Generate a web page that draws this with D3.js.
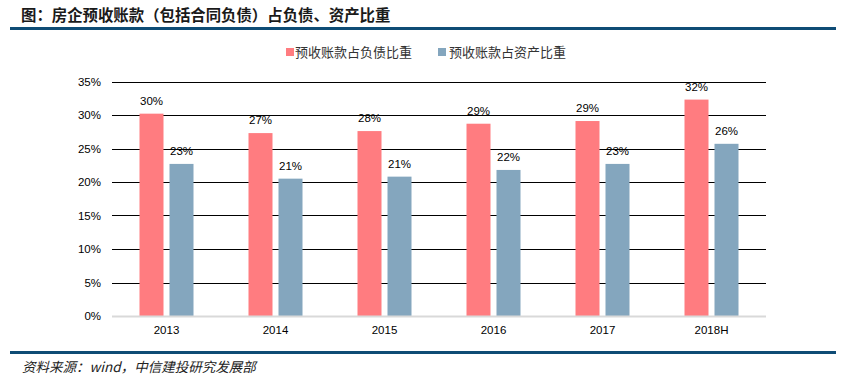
<!DOCTYPE html>
<html>
<head>
<meta charset="utf-8">
<script src="https://cdn.jsdelivr.net/npm/d3@7/dist/d3.min.js"></script>
<style>
  html, body { margin: 0; padding: 0; background: #ffffff; }
  svg { display: block; }
</style>
</head>
<body>
<svg id="chart" width="862" height="381"></svg>
<script>
const categories = ["2013", "2014", "2015", "2016", "2017", "2018H"];
const seriesNames = ["预收账款占负债比重", "预收账款占资产比重"];
const debtRatio = [30.2, 27.3, 27.6, 28.7, 29.1, 32.3];
const assetRatio = [22.7, 20.5, 20.8, 21.8, 22.7, 25.7];
const debtLabels = ["30%", "27%", "28%", "29%", "29%", "32%"];
const assetLabels = ["23%", "21%", "21%", "22%", "23%", "26%"];
const yTicks = [0, 5, 10, 15, 20, 25, 30, 35];
const colors = ["#FF7C80", "#84A6BE"];

const svg = d3.select("#chart");
const cjk = "'Noto Sans CJK SC', 'Noto Sans', sans-serif";
const latin = "'Liberation Sans', Arial, sans-serif";

// Title
svg.append("text").attr("x", 21).attr("y", 21)
  .attr("font-family", cjk).attr("font-weight", "bold").attr("font-size", 15.4)
  .attr("fill", "#1a1a1a").text("图：房企预收账款（包括合同负债）占负债、资产比重");
svg.append("rect").attr("x", 10).attr("y", 27).attr("width", 826).attr("height", 3).attr("fill", "#0E4C75");

// Bottom rule and footer
svg.append("rect").attr("x", 10).attr("y", 351).attr("width", 826).attr("height", 3).attr("fill", "#0E4C75");
svg.append("text").attr("x", 22).attr("y", 372)
  .attr("font-family", cjk).attr("font-style", "italic").attr("font-size", 13.5)
  .attr("fill", "#222").text("资料来源：wind，中信建投研究发展部");

// Scales
const x0 = d3.scaleBand().domain(categories).range([112, 766]).padding(0);
const x1 = d3.scaleBand().domain(seriesNames).range([0, 54]).paddingInner(0.2);
const y = d3.scaleLinear().domain([0, 35]).range([316, 81.5]);

// Gridlines
const grid = svg.append("g");
grid.selectAll("line").data(yTicks.filter(d => d > 0)).enter().append("line")
  .attr("x1", 112).attr("x2", 766)
  .attr("y1", d => Math.round(y(d)) + 0.5).attr("y2", d => Math.round(y(d)) + 0.5)
  .attr("stroke", "#000").attr("stroke-width", 1);

// Y axis labels
const yAxis = d3.axisLeft(y).tickValues(yTicks).tickFormat(d => d + "%").tickSize(0).tickPadding(0);
const yg = svg.append("g").attr("transform", "translate(101,0)").call(yAxis);
yg.select(".domain").remove();
yg.selectAll("text").attr("font-family", latin).attr("font-size", 11.5).attr("fill", "#000");

// Bars
const data = [debtRatio, assetRatio];
const labels = [debtLabels, assetLabels];
const offset = (x0.bandwidth() - 54) / 2;
seriesNames.forEach((s, si) => {
  const g = svg.append("g");
  g.selectAll("rect").data(categories).enter().append("rect")
    .attr("x", c => x0(c) + offset + x1(s))
    .attr("y", (c, i) => y(data[si][i]))
    .attr("width", x1.bandwidth())
    .attr("height", (c, i) => y(0) - y(data[si][i]))
    .attr("fill", colors[si]);
  g.selectAll("text").data(categories).enter().append("text")
    .attr("x", c => x0(c) + offset + x1(s) + x1.bandwidth() / 2)
    .attr("y", (c, i) => y(data[si][i]) - 9)
    .attr("text-anchor", "middle")
    .attr("font-family", latin).attr("font-size", 11.5).attr("fill", "#000")
    .text((c, i) => labels[si][i]);
});

// Baseline
svg.append("line").attr("x1", 112).attr("x2", 766).attr("y1", 316.5).attr("y2", 316.5)
  .attr("stroke", "#D9D9D9").attr("stroke-width", 2);

// X axis labels
const xAxis = d3.axisBottom(x0).tickSize(0).tickPadding(0);
const xg = svg.append("g").attr("transform", "translate(0,326)").call(xAxis);
xg.select(".domain").remove();
xg.selectAll("text").attr("font-family", latin).attr("font-size", 11.5).attr("fill", "#000");

// Legend
const legendPos = [{sx: 286, tx: 295}, {sx: 438, tx: 449}];
seriesNames.forEach((s, i) => {
  svg.append("rect").attr("x", legendPos[i].sx).attr("y", 48).attr("width", 8).attr("height", 8).attr("fill", colors[i]);
  svg.append("text").attr("x", legendPos[i].tx).attr("y", 57)
    .attr("font-family", cjk).attr("font-size", 13).attr("fill", "#333").text(s);
});
</script>
</body>
</html>
